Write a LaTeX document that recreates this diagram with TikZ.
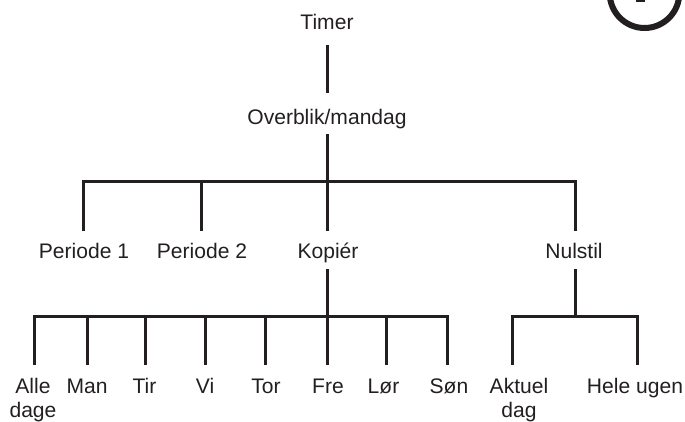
\documentclass[tikz,border=0pt]{standalone}
\usepackage{fontspec}
\setmainfont{Liberation Sans}
\definecolor{ink}{HTML}{231F20}
\begin{document}
\begin{tikzpicture}[x=0.75pt,y=-0.75pt,
  lbl/.style={inner sep=0pt,anchor=base,align=center,text=ink,
    font=\fontsize{15.8}{18}\selectfont},
  edge/.style={draw=ink,line width=2.25pt,line cap=butt,line join=miter}]
\clip (0,0) rectangle (685,421);
% circled badge at top right
\draw[ink,line width=4.5pt] (644.5,-6.8) circle[radius=26.1pt];
\fill[ink] (636,0) rectangle (645,1.7);
% nodes
\node[lbl] (timer) at (327,29.5) {Timer};
\node[lbl] (over) at (327,124) {Overblik/mandag};
\node[lbl] (p1) at (84,258.5) {Periode 1};
\node[lbl] (p2) at (202,258.5) {Periode 2};
\node[lbl] (kop) at (328,258.5) {Kopiér};
\node[lbl] (nul) at (574,258.5) {Nulstil};
\node[lbl] (alle) at (33,417) {Alle\\dage};
\node[lbl] (man) at (87,393) {Man};
\node[lbl] (tir) at (144.5,393) {Tir};
\node[lbl] (vi) at (205,393) {Vi};
\node[lbl] (tor) at (266,393) {Tor};
\node[lbl] (fre) at (328,393) {Fre};
\node[lbl] (lor) at (383.5,393) {Lør};
\node[lbl] (son) at (449,393) {Søn};
\node[lbl] (akt) at (519,417) {Aktuel\\dag};
\node[lbl] (hele) at (635,393) {Hele ugen};
% junction coordinates
\coordinate (j1) at (327,181);
\coordinate (j2) at (327,316);
\coordinate (j3) at (575,316);
% connectors
\draw[edge] ([yshift=-11.6pt]timer.base) -- ([yshift=23.25pt]over.base);
\draw[edge] ([yshift=-7.5pt]over.base) -- (j1);
\draw[edge] ([xshift=-0.4pt,yshift=21pt]p1.base) |- (j1) -| ([xshift=0.75pt,yshift=21pt]nul.base);
\draw[edge] ([xshift=-0.4pt,yshift=21pt]p2.base) -- ++(0,-49.5);
\draw[edge] ([xshift=-0.75pt,yshift=21pt]kop.base) -- (j1);
\draw[edge] ([xshift=-0.75pt,yshift=-7.9pt]kop.base) -- (j2);
\draw[edge] ([xshift=1.1pt,yshift=39pt]alle.base) |- (j2) -| ([xshift=-1.5pt,yshift=21pt]son.base);
\draw[edge] ([xshift=0.4pt,yshift=21pt]man.base) -- ++(0,-49);
\draw[edge] ([xshift=0.4pt,yshift=21pt]tir.base) -- ++(0,-49);
\draw[edge] ([xshift=0.4pt,yshift=21pt]vi.base) -- ++(0,-49);
\draw[edge] ([xshift=-0.75pt,yshift=21pt]tor.base) -- ++(0,-49);
\draw[edge] ([xshift=-0.75pt,yshift=21pt]fre.base) -- ++(0,-49);
\draw[edge] ([xshift=2.25pt,yshift=21pt]lor.base) -- ++(0,-49);
\draw[edge] ([xshift=0.75pt,yshift=-7.9pt]nul.base) -- (j3);
\draw[edge] ([xshift=-5.25pt,yshift=39pt]akt.base) |- (j3) -| ([xshift=1.5pt,yshift=21pt]hele.base);
\end{tikzpicture}
\end{document}
